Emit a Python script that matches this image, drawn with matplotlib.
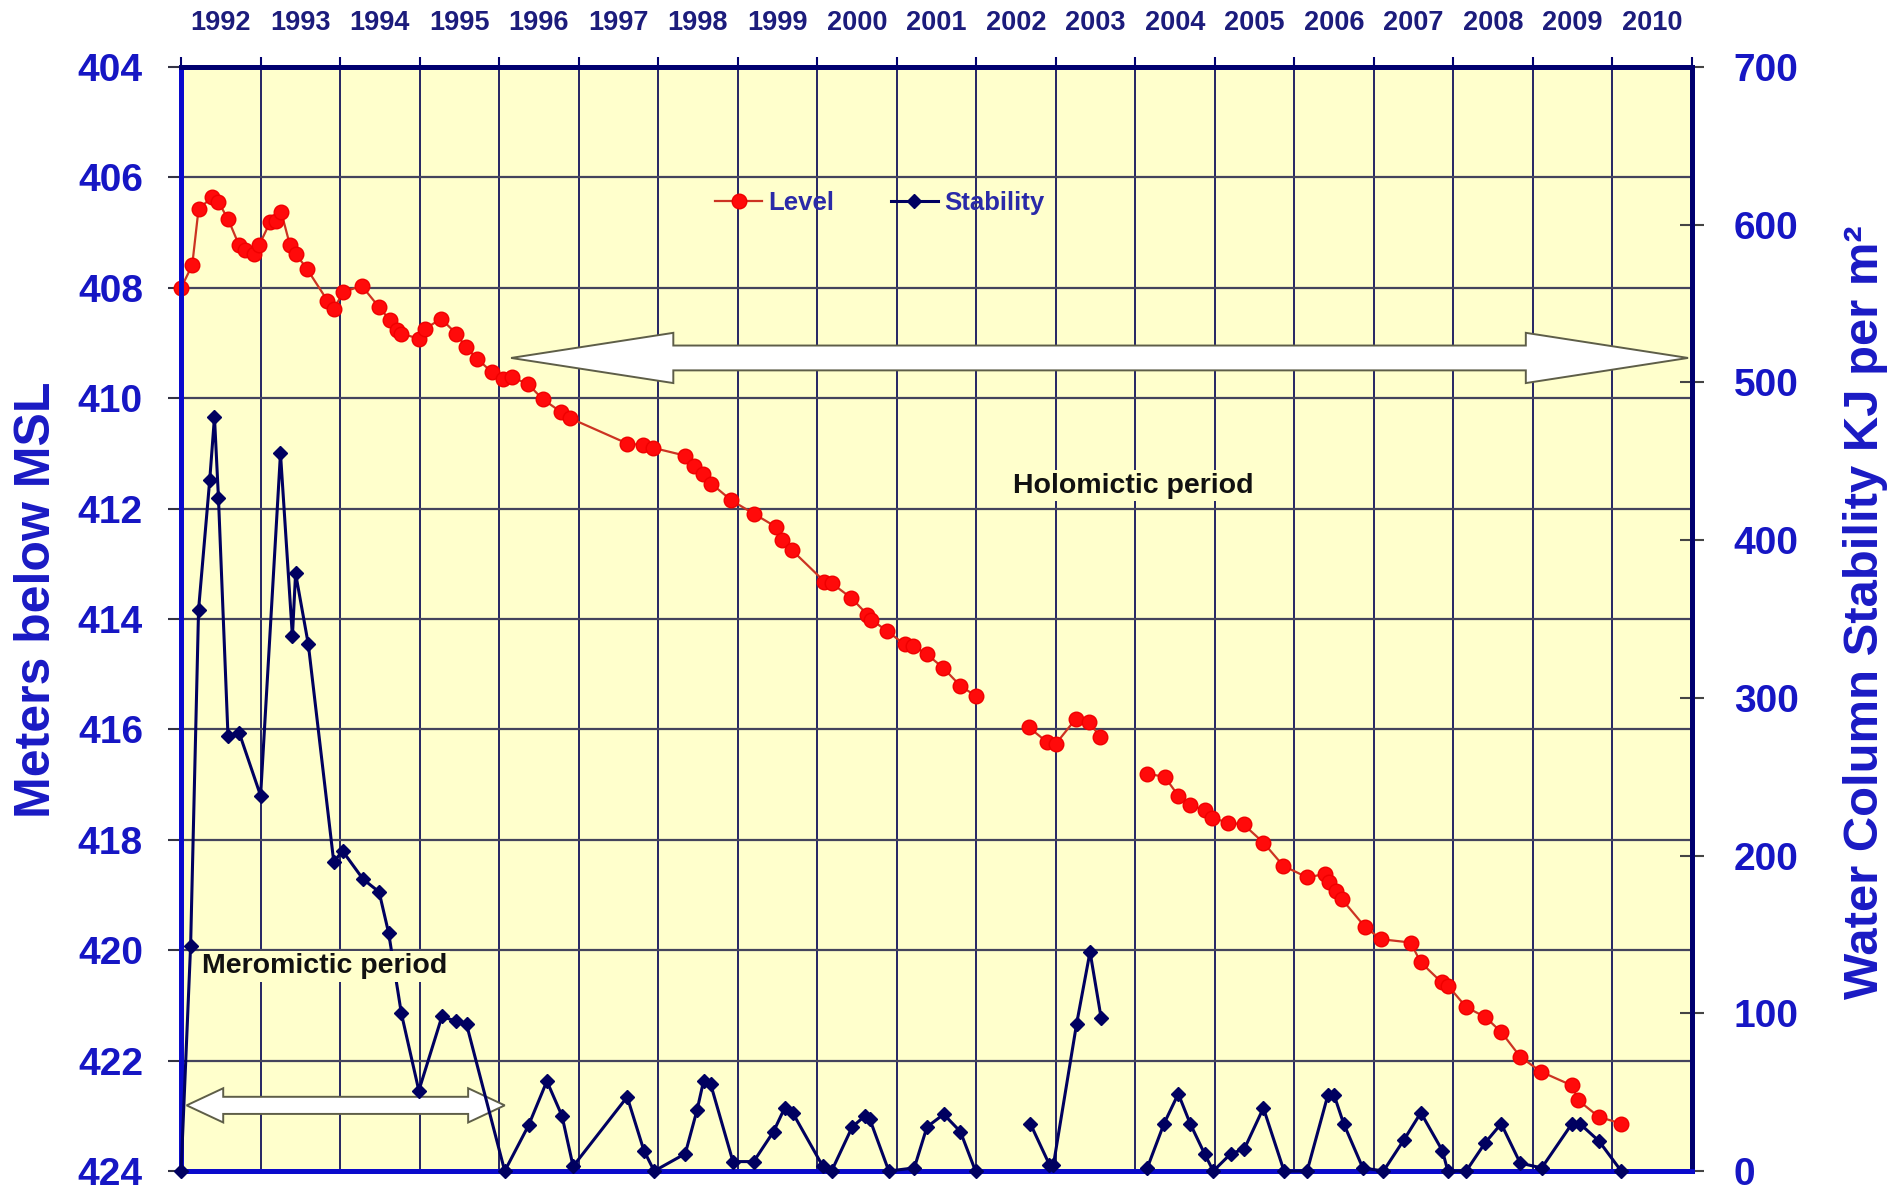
import numpy as np
import matplotlib
matplotlib.use('Agg')
import matplotlib.pyplot as plt
from matplotlib.patches import Polygon
from matplotlib.ticker import FixedLocator, FixedFormatter

plt.rcParams['font.family'] = ['Liberation Sans', 'DejaVu Sans']
plt.rcParams['font.weight'] = 'bold'

YEARS = list(range(1992, 2011))

# lake level in metres below MSL (nan = gap in the record)
level_year = [1992.00, 1992.14, 1992.22, 1992.39, 1992.47, 1992.59, 1992.73, 1992.80, 1992.92, 1992.98,
              1993.12, 1993.20, 1993.26, 1993.37, 1993.44, 1993.58, 1993.84, 1993.92, 1994.04, 1994.27,
              1994.49, 1994.63, 1994.71, 1994.77, 1994.99, 1995.07, 1995.27, 1995.46, 1995.58, 1995.72,
              1995.91, 1996.05, 1996.16, 1996.36, 1996.55, 1996.78, 1996.89, 1997.61, 1997.81, 1997.94,
              1998.34, 1998.45, 1998.56, 1998.67, 1998.92, 1999.20, 1999.48, 1999.56, 1999.68, 2000.09,
              2000.18, 2000.43, 2000.63, 2000.68, 2000.88, 2001.10, 2001.21, 2001.38, 2001.58, 2001.80,
              2001.99, 2002.30, 2002.66, 2002.89, 2003.00, 2003.25, 2003.42, 2003.56, 2003.85, 2004.15,
              2004.37, 2004.54, 2004.69, 2004.87, 2004.96, 2005.17, 2005.36, 2005.61, 2005.86, 2006.16,
              2006.38, 2006.44, 2006.52, 2006.60, 2006.89, 2007.09, 2007.46, 2007.59, 2007.85, 2007.93,
              2008.16, 2008.40, 2008.60, 2008.84, 2009.10, 2009.49, 2009.57, 2009.83, 2010.11]
level_m = [408.00, 407.59, 406.57, 406.36, 406.45, 406.75, 407.23, 407.32, 407.38, 407.23,
           406.81, 406.78, 406.63, 407.23, 407.38, 407.65, 408.23, 408.38, 408.08, 407.96,
           408.35, 408.59, 408.77, 408.83, 408.92, 408.74, 408.56, 408.83, 409.07, 409.28,
           409.53, 409.65, 409.62, 409.74, 410.02, 410.25, 410.36, 410.82, 410.85, 410.90,
           411.04, 411.22, 411.37, 411.55, 411.85, 412.09, 412.33, 412.57, 412.75, 413.32,
           413.35, 413.62, 413.92, 414.01, 414.22, 414.46, 414.49, 414.64, 414.88, 415.21,
           415.39, np.nan, 415.96, 416.23, 416.26, 415.81, 415.87, 416.14, np.nan, 416.80,
           416.86, 417.20, 417.37, 417.46, 417.60, 417.69, 417.72, 418.05, 418.47, 418.68,
           418.62, 418.77, 418.92, 419.08, 419.58, 419.80, 419.86, 420.22, 420.58, 420.64,
           421.03, 421.21, 421.48, 421.93, 422.20, 422.45, 422.72, 423.02, 423.14]

# water column stability, KJ per m2
stab_year = [1992.00, 1992.12, 1992.22, 1992.36, 1992.42, 1992.47, 1992.59, 1992.73, 1993.00, 1993.25,
             1993.40, 1993.44, 1993.60, 1993.92, 1994.03, 1994.29, 1994.49, 1994.61, 1994.77, 1994.99,
             1995.28, 1995.46, 1995.59, 1996.07, 1996.37, 1996.60, 1996.79, 1996.93, 1997.61, 1997.82,
             1997.95, 1998.34, 1998.49, 1998.57, 1998.66, 1998.94, 1999.20, 1999.45, 1999.59, 1999.69,
             2000.07, 2000.18, 2000.44, 2000.60, 2000.66, 2000.90, 2001.22, 2001.38, 2001.59, 2001.80,
             2001.99, 2002.30, 2002.68, 2002.92, 2002.97, 2003.26, 2003.43, 2003.57, 2003.85, 2004.15,
             2004.36, 2004.54, 2004.69, 2004.87, 2004.98, 2005.20, 2005.37, 2005.61, 2005.87, 2006.16,
             2006.42, 2006.50, 2006.62, 2006.86, 2007.12, 2007.38, 2007.59, 2007.86, 2007.93, 2008.16,
             2008.40, 2008.60, 2008.84, 2009.11, 2009.49, 2009.59, 2009.83, 2010.11]
stab_kj = [0, 143, 356, 438, 478, 427, 276, 278, 238, 455,
           339, 379, 334, 196, 203, 185, 177, 151, 100, 51,
           98, 95, 93, 0, 29, 57, 35, 3, 47, 13,
           0, 11, 39, 57, 55, 6, 6, 25, 40, 37,
           3, 0, 28, 35, 33, 0, 2, 28, 36, 25,
           0, np.nan, 30, 4, 4, 93, 139, 97, np.nan, 2,
           30, 49, 30, 11, 0, 11, 14, 40, 0, 0,
           48, 48, 30, 2, 0, 20, 37, 13, 0, 0,
           18, 30, 5, 2, 30, 30, 19, 0]

BLUE = '#1616c4'
NAVY = '#000070'
YELLOW = '#ffffcc'

fig = plt.figure(figsize=(19.02, 11.93), dpi=100)
fig.patch.set_facecolor('white')
ax = fig.add_axes([0.0952, 0.0184, 0.7944, 0.9254])
ax.set_facecolor(YELLOW)
ax2 = ax.twinx()

ax.set_xlim(1992, 2011)
ax.set_ylim(424, 404)
ax2.set_ylim(0, 700)

# year gridlines on integer years, labels centred in each year column on top
ax.xaxis.set_major_locator(FixedLocator(range(1992, 2012)))
ax.xaxis.set_minor_locator(FixedLocator([y + 0.5 for y in YEARS]))
ax.xaxis.set_minor_formatter(FixedFormatter([str(y) for y in YEARS]))
ax.tick_params(axis='x', which='major', top=True, bottom=False, direction='out', length=7,
               width=1.5, color=NAVY, labeltop=False, labelbottom=False)
ax.tick_params(axis='x', which='minor', top=True, bottom=False, length=0, pad=22,
               labeltop=True, labelbottom=False, labelsize=19.5, labelcolor='#1c1c7c')

ax.set_yticks(range(404, 425, 2))
ax.tick_params(axis='y', direction='out', length=9.5, width=1.5, color='#333344', pad=18,
               labelsize=28, labelcolor=BLUE)
ax2.set_yticks(range(0, 701, 100))
ax2.tick_params(axis='y', direction='inout', length=17, width=1.5, color='#444444', pad=21.5,
                labelsize=28, labelcolor=BLUE)
for lab in ax.get_xticklabels(minor=True) + ax.get_yticklabels() + ax2.get_yticklabels():
    lab.set_fontweight('bold')

ax.grid(True, axis='x', which='major', color='#14145a', lw=1.3)
ax.grid(True, axis='y', which='major', color='#44445c', lw=1.6)

for a in (ax, ax2):
    a.spines['left'].set_color('#0a0acc')
    a.spines['bottom'].set_color('#0a0acc')
    a.spines['top'].set_color(NAVY)
    a.spines['right'].set_color(NAVY)
    for s in a.spines.values():
        s.set_linewidth(3.5)


def block_double_arrow(x0, x1, yc, shaft, head, head_len):
    pts = [(x0, yc), (x0 + head_len, yc - head / 2), (x0 + head_len, yc - shaft / 2),
           (x1 - head_len, yc - shaft / 2), (x1 - head_len, yc - head / 2), (x1, yc),
           (x1 - head_len, yc + head / 2), (x1 - head_len, yc + shaft / 2),
           (x0 + head_len, yc + shaft / 2), (x0 + head_len, yc + head / 2)]
    return Polygon(pts, closed=True, fc='white', ec='#5e5e48', lw=1.4,
                   transform=ax.transData, zorder=1.5, clip_on=False)


ax2.add_patch(block_double_arrow(1996.15, 2010.95, 409.27, 0.45, 0.91, 2.04))
ax2.add_patch(block_double_arrow(1992.07, 1996.07, 422.81, 0.31, 0.62, 0.46))

h1, = ax.plot(level_year, level_m, color='#cc3322', lw=1.6, marker='o', ms=10.5,
              mfc='#ff0a0a', mec='#f00000', clip_on=False, zorder=3)
h2, = ax2.plot(stab_year, stab_kj, color='#000060', lw=2.2, marker='D', ms=7.5,
               mfc='#000060', mec='#000060', clip_on=False, zorder=3)

ax2.text(2003.97, 411.71, 'Holomictic period', transform=ax.transData, ha='center',
         va='baseline', fontsize=20.5, fontweight='bold', color='#111111',
         bbox=dict(fc=YELLOW, ec='none', pad=2), zorder=4)
ax2.text(1993.80, 420.42, 'Meromictic period', transform=ax.transData, ha='center',
         va='baseline', fontsize=20.5, fontweight='bold', color='#111111',
         bbox=dict(fc=YELLOW, ec='none', pad=2), zorder=4)

leg = ax2.legend([h1, h2], ['Level', 'Stability'], loc='center left',
                 bbox_to_anchor=(0.3536, 0.877), ncol=2, frameon=False, borderpad=0,
                 borderaxespad=0, handlelength=1.83, handletextpad=0.23, columnspacing=2.2,
                 numpoints=1, prop={'weight': 'bold', 'size': 18.5}, labelcolor='#2a2aa8')

fig.text(37.5 / 1902, 1 - 600 / 1193, 'Meters below MSL', rotation=90, ha='center',
         va='center', fontsize=36, fontweight='bold', color='#1a1ac4')
fig.text(1865 / 1902, 1 - 612 / 1193, 'Water Column Stability KJ per m²', rotation=90,
         ha='center', va='center', fontsize=35.3, fontweight='bold', color='#1a1ac4')

fig.savefig('out.png', dpi=100)
